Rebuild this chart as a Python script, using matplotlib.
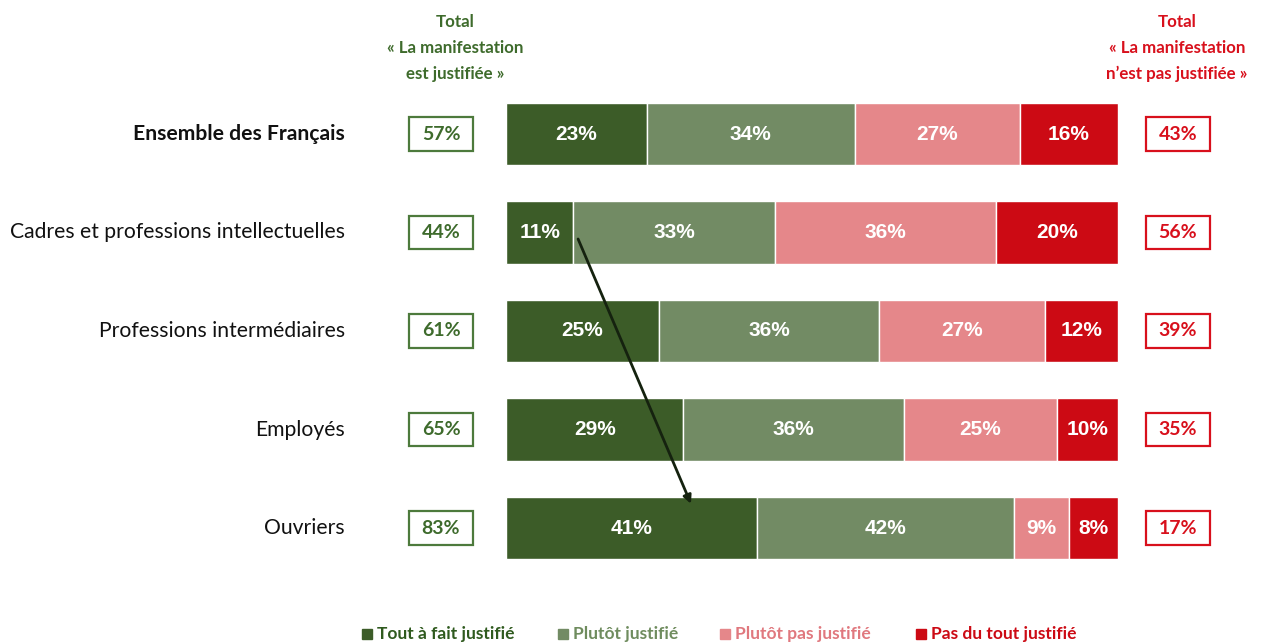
import matplotlib
matplotlib.use("Agg")
import matplotlib.pyplot as plt
from matplotlib.patches import Rectangle

categories = ["Ensemble des Français", "Cadres et professions intellectuelles",
              "Professions intermédiaires", "Employés", "Ouvriers"]
tout_a_fait = [23, 11, 25, 29, 41]
plutot = [34, 33, 36, 36, 42]
plutot_pas = [27, 36, 27, 25, 9]
pas_du_tout = [16, 20, 12, 10, 8]
total_justifiee = [57, 44, 61, 65, 83]
total_non = [43, 56, 39, 35, 17]
series_names = ["Tout à fait justifié", "Plutôt justifié", "Plutôt pas justifié", "Pas du tout justifié"]

colors = ["#3c5c28", "#728b64", "#e5878a", "#cc0a14"]
text_colors = ["#2f5a1e", "#6f8c5e", "#e0787e", "#cc0a14"]
green_txt = "#3e6b2c"
red_txt = "#d8101c"

W, H = 1262, 644
fig = plt.figure(figsize=(W / 100, H / 100), dpi=100)
ax = fig.add_axes([0, 0, 1, 1])
# pixel mapping: bars start at x=506px, 6.12 px per %, row 0 centre at 134px, 98.5 px per row
pxp = 6.12
x0 = 506
ax.set_xlim(-x0 / pxp, (W - x0) / pxp)
ax.set_ylim((H - 134) / 98.5, -134 / 98.5)
ax.axis("off")

sans = ["Lato", "DejaVu Sans"]
arial = ["Liberation Sans", "DejaVu Sans"]

series = [tout_a_fait, plutot, plutot_pas, pas_du_tout]
ys = list(range(len(categories)))
left = [0] * len(categories)
for s, vals in enumerate(series):
    ax.barh(ys, vals, left=left, height=0.63, color=colors[s], edgecolor="white", linewidth=1)
    for i, v in enumerate(vals):
        ax.text(left[i] + v / 2, ys[i], f"{v}%", ha="center", va="center", color="white",
                fontsize=15, fontweight="bold", family=arial)
    left = [l + v for l, v in zip(left, vals)]

for i, cat in enumerate(categories):
    ax.text(-161 / pxp, ys[i], cat, ha="right", va="center", fontsize=15.2,
            fontweight="bold" if i == 0 else "normal", color="#111111", family=sans)

bw, bh = 64 / pxp, 0.345
lc = (441 - x0) / pxp
rc = (1178 - x0) / pxp
for i in range(len(categories)):
    ax.add_patch(Rectangle((lc - bw / 2, ys[i] - bh / 2), bw, bh, fill=False,
                           edgecolor="#4d7a3c", linewidth=1.6))
    ax.text(lc, ys[i], f"{total_justifiee[i]}%", ha="center", va="center",
            color=green_txt, fontsize=14, fontweight="bold", family=sans)
    ax.add_patch(Rectangle((rc - bw / 2, ys[i] - bh / 2), bw, bh, fill=False,
                           edgecolor="#d8101c", linewidth=1.6))
    ax.text(rc, ys[i], f"{total_non[i]}%", ha="center", va="center",
            color=red_txt, fontsize=14, fontweight="bold", family=sans)

# headers
ax.text((455 - x0) / pxp, (48 - 134) / 98.5, "Total\n« La manifestation\nest justifiée »",
        ha="center", va="center", color=green_txt, fontsize=12.2, fontweight="bold",
        family=sans, linespacing=1.75)
ax.text((1177 - x0) / pxp, (48 - 134) / 98.5, "Total\n« La manifestation\nn’est pas justifiée »",
        ha="center", va="center", color=red_txt, fontsize=12.2, fontweight="bold",
        family=sans, linespacing=1.75)

# arrow
ax.annotate("", xy=(30.4, 4 - 0.22), xytext=(tout_a_fait[1] + 0.6, 1.04),
            arrowprops=dict(arrowstyle="-|>", color="#15220f", lw=2, mutation_scale=12))

# legend
ly = (634 - 134) / 98.5
leg_x = [367, 563, 725, 921]
for k, name in enumerate(series_names):
    xs = (leg_x[k] - x0) / pxp
    ax.plot([xs], [ly], marker="s", markersize=7, color=colors[k], linestyle="none")
    ax.text(xs + 10 / pxp, ly, name, ha="left", va="center", fontsize=12.5,
            fontweight="bold", color=text_colors[k], family=sans)

fig.savefig("out.png", dpi=100)
